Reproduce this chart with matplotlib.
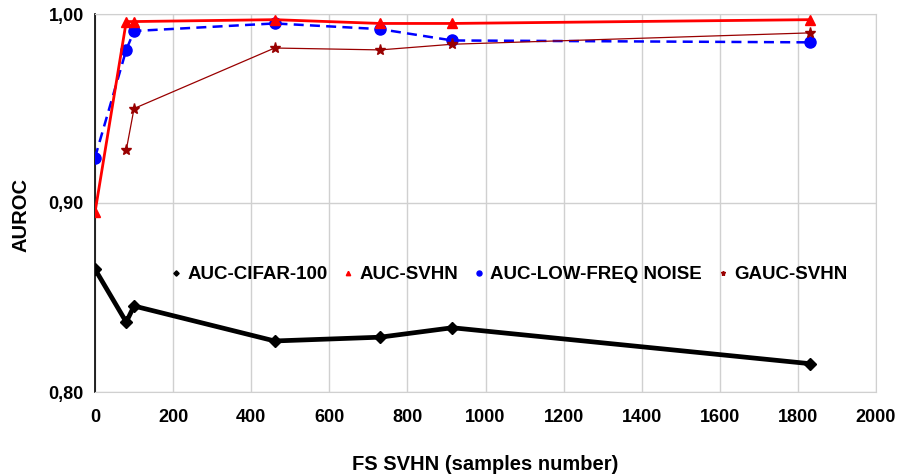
import matplotlib
matplotlib.use("Agg")
import matplotlib.pyplot as plt
from matplotlib.ticker import FuncFormatter, MultipleLocator

plt.rcParams['font.family'] = ['Liberation Sans', 'DejaVu Sans']

x = [0, 80, 100, 460, 730, 915, 1830]
x_gauc = [80, 100, 460, 730, 915, 1830]
auc_cifar100 = [0.865, 0.837, 0.8455, 0.827, 0.829, 0.834, 0.815]
auc_svhn = [0.895, 0.996, 0.996, 0.997, 0.995, 0.995, 0.997]
auc_lowfreq = [0.924, 0.981, 0.991, 0.995, 0.992, 0.986, 0.985]
gauc_svhn = [0.928, 0.950, 0.982, 0.981, 0.984, 0.990]

fig = plt.figure(figsize=(8.99, 4.76), dpi=100)
ax = fig.add_axes([95/899, 1-392/476, (876-95)/899, (392-14)/476])

ax.plot(x, auc_cifar100, color='black', lw=3.4, marker='D', ms=6,
        label='AUC-CIFAR-100', zorder=3)
ax.plot(x, auc_svhn, color='#ff0000', lw=2, marker='^', ms=7,
        label='AUC-SVHN', zorder=4)
ax.plot(x, auc_lowfreq, color='#0000ff', lw=1.8, ls=(0, (4, 2.5)), marker='o', ms=8,
        label='AUC-LOW-FREQ NOISE', zorder=3)
ax.plot(x_gauc, gauc_svhn, color='#990000', lw=0.9, marker='*', ms=8,
        label='GAUC-SVHN', zorder=3)

ax.set_xlim(0, 2000)
ax.set_ylim(0.80, 1.00)
ax.xaxis.set_major_locator(MultipleLocator(200))
ax.yaxis.set_major_locator(MultipleLocator(0.1))
ax.yaxis.set_major_formatter(FuncFormatter(lambda v, p: f"{v:.2f}".replace('.', ',')))
ax.grid(True, color='#d0d0d0', lw=1)
ax.set_axisbelow(True)
for s in ['top', 'right']:
    ax.spines[s].set_color('#d0d0d0')
ax.spines['bottom'].set_color('#d0d0d0')
ax.spines['left'].set_color('black')
ax.spines['left'].set_linewidth(1.2)
ax.tick_params(length=0, labelsize=13)
ax.tick_params(axis='x', pad=12)
ax.tick_params(axis='y', pad=8)
for lab in ax.get_xticklabels() + ax.get_yticklabels():
    lab.set_fontweight('bold')

ax.set_xlabel('FS SVHN (samples number)', fontsize=14.5, fontweight='bold', va='center')
ax.set_ylabel('AUROC', fontsize=14.5, fontweight='bold', va='center')
ax.xaxis.set_label_coords(0.5, (392-464)/378)
ax.yaxis.set_label_coords((21-95)/781, (392-215.5)/378)

leg = ax.legend(loc='center', bbox_to_anchor=(0.53, 0.31), ncol=4, frameon=False,
                prop={'weight': 'bold', 'size': 13.5}, markerscale=0.45,
                handlelength=0.6, handletextpad=0.3, columnspacing=0.8)
for h in leg.get_lines():
    h.set_linestyle('none')

fig.savefig('out.png', dpi=100)
